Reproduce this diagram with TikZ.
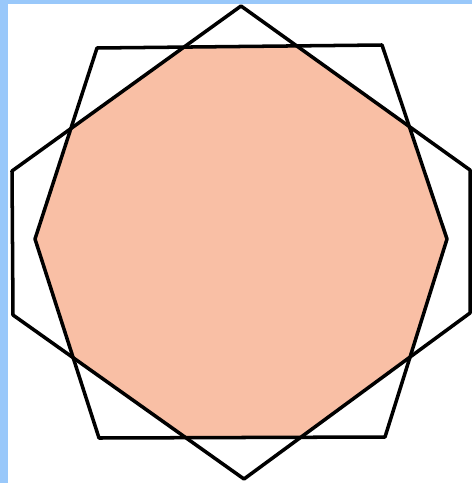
\documentclass[tikz,border=0pt]{standalone}
\usepackage{tikz}
\definecolor{peach}{RGB}{249,191,165}
\definecolor{frameblue}{RGB}{153,200,250}

\begin{document}
\begin{tikzpicture}[x=0.02cm, y=-0.02cm, line cap=round,line join=round]
\useasboundingbox (0,0) rectangle (472,483);
\fill[white] (0,0) rectangle (472,483);
\fill[frameblue] (0,0) rectangle (8,483);
\fill[frameblue] (0,0) rectangle (472,4);

% first hexagon
\coordinate (a1) at (241,6);
\coordinate (a2) at (470,170);
\coordinate (a3) at (470,313);
\coordinate (a4) at (244,479);
\coordinate (a5) at (13,315);
\coordinate (a6) at (12,171);
% second hexagon
\coordinate (b1) at (97,48);
\coordinate (b2) at (382,45);
\coordinate (b3) at (447,239);
\coordinate (b4) at (385,437);
\coordinate (b5) at (99,438);
\coordinate (b6) at (35,239);

\begin{scope}
\clip (a1)--(a2)--(a3)--(a4)--(a5)--(a6)--cycle;
\fill[peach] (b1)--(b2)--(b3)--(b4)--(b5)--(b6)--cycle;
\end{scope}

\draw[line width=2pt] (a1)--(a2)--(a3)--(a4)--(a5)--(a6)--cycle;
\draw[line width=2pt] (b1)--(b2)--(b3)--(b4)--(b5)--(b6)--cycle;
\end{tikzpicture}
\end{document}
